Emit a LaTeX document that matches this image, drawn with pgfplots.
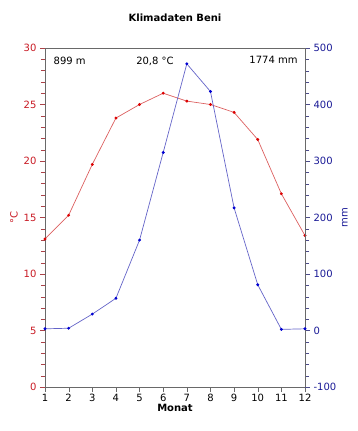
\documentclass[border=0pt]{standalone}
\usepackage{pgfplots}
\pgfplotsset{compat=1.18}
\usepackage{fontspec}
\setmainfont{DejaVu Sans}
\definecolor{tred}{RGB}{200,25,35}
\definecolor{tblue}{RGB}{25,25,150}
\definecolor{lred}{RGB}{220,95,95}
\definecolor{lblue}{RGB}{100,100,200}
\definecolor{mred}{RGB}{220,0,0}
\definecolor{mblue}{RGB}{0,0,210}
\definecolor{frame}{RGB}{105,105,105}
\begin{document}
\begin{tikzpicture}[font=\fontsize{10}{12}\selectfont]
\useasboundingbox (-45pt,-44pt) rectangle (313pt,387pt);
\begin{axis}[
  scale only axis, width=260pt, height=339pt,
  xmin=1, xmax=12, ymin=0, ymax=30,
  xtick={1,...,12}, ytick={0,5,...,30},
  minor y tick num=4,
  tick align=outside,
  xtick pos=bottom, ytick pos=left,
  major tick length=5pt, minor tick length=4pt,
  axis line style={frame},
  x tick style={frame},
  y tick style={tred!60!gray},
  yticklabel style={text=tred},
  xticklabel style={yshift=1pt},
  /pgf/number format/assume math mode=true,
  xlabel={\bfseries Monat},
  xlabel style={yshift=5pt},
  ylabel={°C}, ylabel style={text=tred, yshift=-1pt},
  clip=false,
]
\addplot[lred, line width=0.7pt, mark=*, mark size=1.1pt, mark options={mred, fill=mred}] coordinates {
(1,13.1) (2,15.2) (3,19.7) (4,23.8) (5,25.0) (6,26.0) (7,25.3) (8,25.0) (9,24.3) (10,21.9) (11,17.1) (12,13.4)};
\node[anchor=north west] at (rel axis cs:0.02,0.985) {899 m};
\node[anchor=north] at (rel axis cs:0.423,0.985) {20,8 °C};
\node[anchor=north east] at (rel axis cs:0.985,0.985) {1774 mm};
\node[font=\fontsize{10}{12}\selectfont\bfseries] at (rel axis cs:0.5,1) [yshift=30pt] {Klimadaten Beni};
\end{axis}
\begin{axis}[
  scale only axis, width=260pt, height=339pt,
  xmin=1, xmax=12, ymin=-100, ymax=500,
  hide x axis,
  axis y line*=right,
  ytick={-100,0,...,500},
  minor y tick num=4,
  tick align=outside,
  major tick length=5pt, minor tick length=4pt,
  axis line style={frame},
  y tick style={tblue!50!gray},
  yticklabel style={text=tblue},
  /pgf/number format/assume math mode=true,
  ylabel={mm}, ylabel style={text=tblue, yshift=1pt},
]
\addplot[lblue, line width=0.7pt, mark=*, mark size=1.1pt, mark options={mblue, fill=mblue}] coordinates {
(1,3) (2,4) (3,29) (4,57) (5,160) (6,315) (7,472) (8,423) (9,217) (10,81) (11,2) (12,3)};
\end{axis}
\end{tikzpicture}
\end{document}
